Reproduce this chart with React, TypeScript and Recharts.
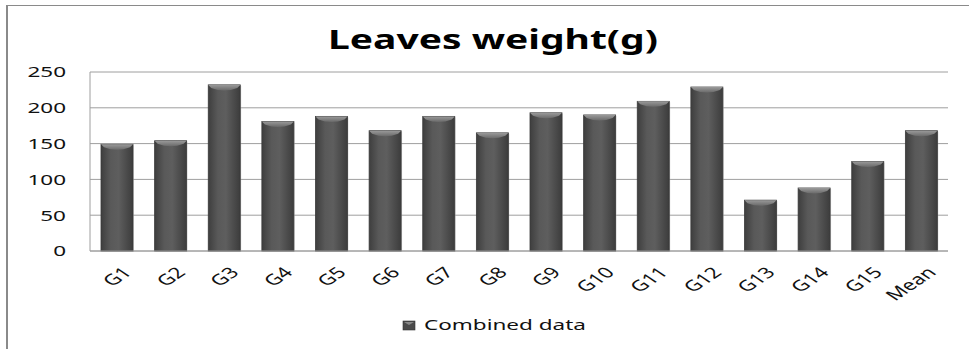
import { BarChart, Bar, XAxis, YAxis, CartesianGrid, Legend } from 'recharts';

const categories = ['G1', 'G2', 'G3', 'G4', 'G5', 'G6', 'G7', 'G8', 'G9', 'G10', 'G11', 'G12', 'G13', 'G14', 'G15', 'Mean'];
const combined = [149, 154, 232, 181, 188, 168, 188, 165, 193, 190, 209, 229, 71, 88, 125, 168];
const yTicks = [0, 50, 100, 150, 200, 250];

const data = categories.map((name, i) => ({ name, combined: combined[i] }));

const FONT = '"Noto Sans", "Open Sans", sans-serif';
const STRETCH = 1.5;

function YTick({ x, y, payload }: any) {
  return (
    <g transform={`translate(${x},${y})`}>
      <text transform={`scale(${STRETCH},1)`} textAnchor="end" dy="0.36em" fontFamily={FONT} fontSize={15} fill="#111">
        {payload.value}
      </text>
    </g>
  );
}

function XTick({ x, y, payload }: any) {
  return (
    <g transform={`translate(${x + 5},${y + 7}) scale(${STRETCH},1) rotate(-45)`}>
      <text textAnchor="end" dy="0.7em" fontFamily={FONT} fontSize={15} fill="#111">
        {payload.value}
      </text>
    </g>
  );
}

function BevelBar({ x, y, width, height }: any) {
  if (!height || height <= 0) return null;
  const w = width;
  return (
    <g>
      <rect x={x + 1} y={y + 1} width={w} height={height} fill="#bbb" opacity={0.5} />
      <rect x={x} y={y} width={w} height={height} fill="url(#barGrad)" stroke="#3a3a3a" strokeWidth={0.8} />
      <path
        d={`M${x},${y} L${x + w},${y} L${x + w - 3},${y + 3} Q${x + w / 2},${y + 8} ${x + 3},${y + 3} Z`}
        fill="url(#bevelGrad)"
      />
    </g>
  );
}

function LegendContent() {
  return (
    <svg width={260} height={22}>
      <rect x={1} y={6} width={12} height={9} fill="#4a4a4a" stroke="#333" strokeWidth={0.6} />
      <path d="M2,7 L12,7 L7,10 Z" fill="#888" />
      <g transform={`translate(22,15) scale(${STRETCH},1)`}>
        <text fontFamily={FONT} fontSize={15} fill="#111">Combined data</text>
      </g>
    </svg>
  );
}

export default function App() {
  return (
    <div style={{ position: 'fixed', left: 0, top: 0, width: 969, height: 349, background: '#fff' }}>
      <div style={{ position: 'absolute', left: 6, top: 5, right: 0, height: 344, borderLeft: '2px solid #8a8a8a', borderTop: '1px solid #8a8a8a' }} />
      <svg style={{ position: 'absolute', left: 0, top: 0 }} width={969} height={62}>
        <g transform={`translate(493,49) scale(${STRETCH},1)`}>
          <text textAnchor="middle" fontFamily={FONT} fontWeight="bold" fontSize={26} fill="#000">
            Leaves weight(g)
          </text>
        </g>
      </svg>
      <div style={{ position: 'absolute', left: 0, top: 0 }}>
        <BarChart width={969} height={349} data={data} margin={{ top: 72, right: 21, bottom: 38, left: 30 }} barSize={32}>
          <defs>
            <linearGradient id="barGrad" x1="0" y1="0" x2="1" y2="0">
              <stop offset="0%" stopColor="#3e3e3e" />
              <stop offset="30%" stopColor="#595959" />
              <stop offset="55%" stopColor="#5e5e5e" />
              <stop offset="100%" stopColor="#3c3c3c" />
            </linearGradient>
            <linearGradient id="bevelGrad" x1="0" y1="0" x2="0" y2="1">
              <stop offset="0%" stopColor="#9a9a9a" />
              <stop offset="100%" stopColor="#6a6a6a" />
            </linearGradient>
          </defs>
          <CartesianGrid vertical={false} stroke="#9e9e9e" strokeWidth={1} />
          <XAxis
            dataKey="name"
            interval={0}
            height={60}
            tick={<XTick />}
            tickLine={false}
            axisLine={{ stroke: '#9e9e9e' }}
          />
          <YAxis
            domain={[0, 250]}
            ticks={yTicks}
            width={60}
            tick={<YTick />}
            tickLine={false}
            tickSize={0}
            tickMargin={24}
            axisLine={{ stroke: '#9e9e9e' }}
          />
          <Legend
            layout="horizontal"
            verticalAlign="middle"
            align="center"
            content={<LegendContent />}
            wrapperStyle={{ left: 402, top: 315, width: 260, height: 22 }}
          />
          <Bar dataKey="combined" name="Combined data" shape={<BevelBar />} isAnimationActive={false} />
        </BarChart>
      </div>
    </div>
  );
}
